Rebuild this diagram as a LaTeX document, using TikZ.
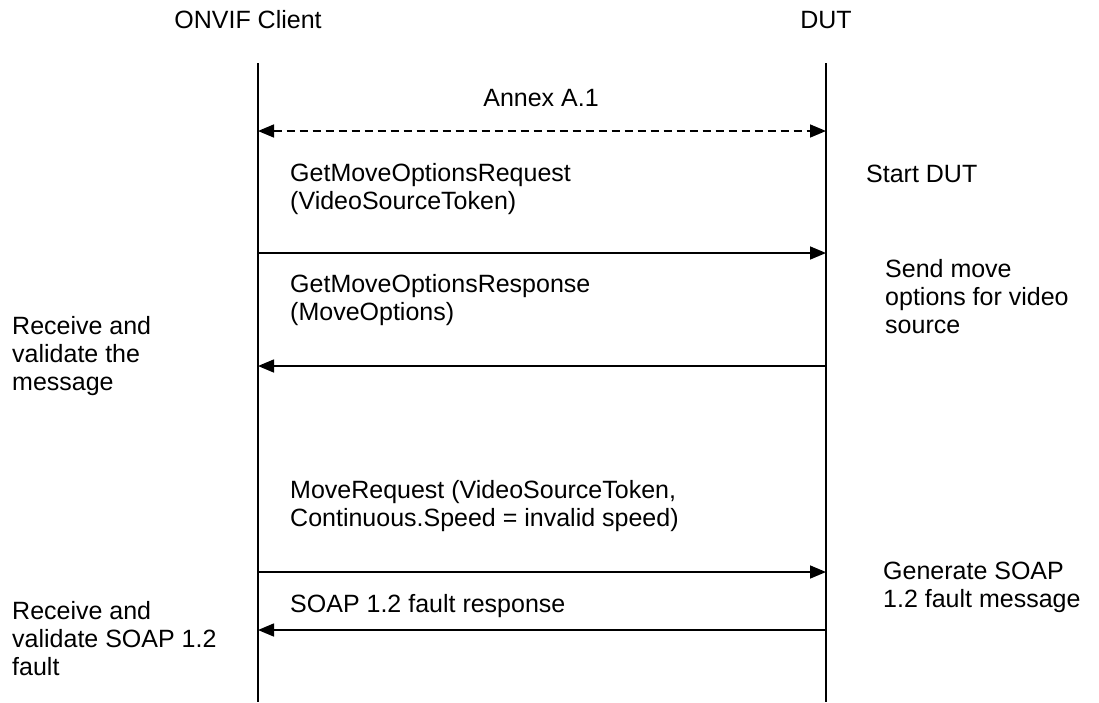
\documentclass[tikz,border=0pt]{standalone}
\usepackage{fontspec}
\setmainfont{Liberation Sans}
\usetikzlibrary{arrows.meta}

\begin{document}
\begin{tikzpicture}[
  x=1pt, y=-1pt,
  lbl/.style={inner sep=0pt, align=left, anchor=base west, font=\fontsize{25}{28}\selectfont},
  head/.style={lbl, anchor=base},
  life/.style={line width=1.6pt},
  msg/.style={line width=1.6pt, -{Triangle[length=16pt, width=13pt]}},
  annex/.style={msg, {Triangle[length=16pt, width=13pt]}-{Triangle[length=16pt, width=13pt]}, dash pattern=on 8pt off 5pt}
]
\useasboundingbox (0,0) rectangle (1099,702);

\node[head] (client) at (248,28) {ONVIF Client};
\node[head] (dut) at (826,28) {DUT};

\coordinate (ctop) at (258,63);
\coordinate (cbot) at (258,702);
\coordinate (dtop) at (826,63);
\coordinate (dbot) at (826,702);
\draw[life] (ctop) -- (cbot);
\draw[life] (dtop) -- (dbot);

\coordinate (c0) at (258,131);
\coordinate (d0) at (826,131);
\coordinate (c1) at (258,253);
\coordinate (d1) at (826,253);
\coordinate (c2) at (258,366);
\coordinate (d2) at (826,366);
\coordinate (c3) at (258,572);
\coordinate (d3) at (826,572);
\coordinate (c4) at (258,630);
\coordinate (d4) at (826,630);

\node[head] (annexlbl) at (541,106) {Annex A.1};
\draw[annex] (c0) -- (d0);

\node[lbl] (getreq) at (290,209) {GetMoveOptionsRequest\\(VideoSourceToken)};
\node[lbl] (startdut) at (866,182) {Start DUT};
\draw[msg] (c1) -- (d1);

\node[lbl] (getresp) at (290,320) {GetMoveOptionsResponse\\(MoveOptions)};
\node[lbl] (sendopts) at (885,333) {Send move\\options for video\\source};
\node[lbl] (recvmsg) at (12,390) {Receive and\\validate the\\message};
\draw[msg] (d2) -- (c2);

\node[lbl] (movereq) at (290,526) {MoveRequest (VideoSourceToken,\\Continuous.Speed = invalid speed)};
\draw[msg] (c3) -- (d3);

\node[lbl] (genfault) at (883,607) {Generate SOAP\\1.2 fault message};
\node[lbl] (faultresp) at (290,612) {SOAP 1.2 fault response};
\node[lbl] (recvfault) at (12,675) {Receive and\\validate SOAP 1.2\\fault};
\draw[msg] (d4) -- (c4);
\end{tikzpicture}
\end{document}
